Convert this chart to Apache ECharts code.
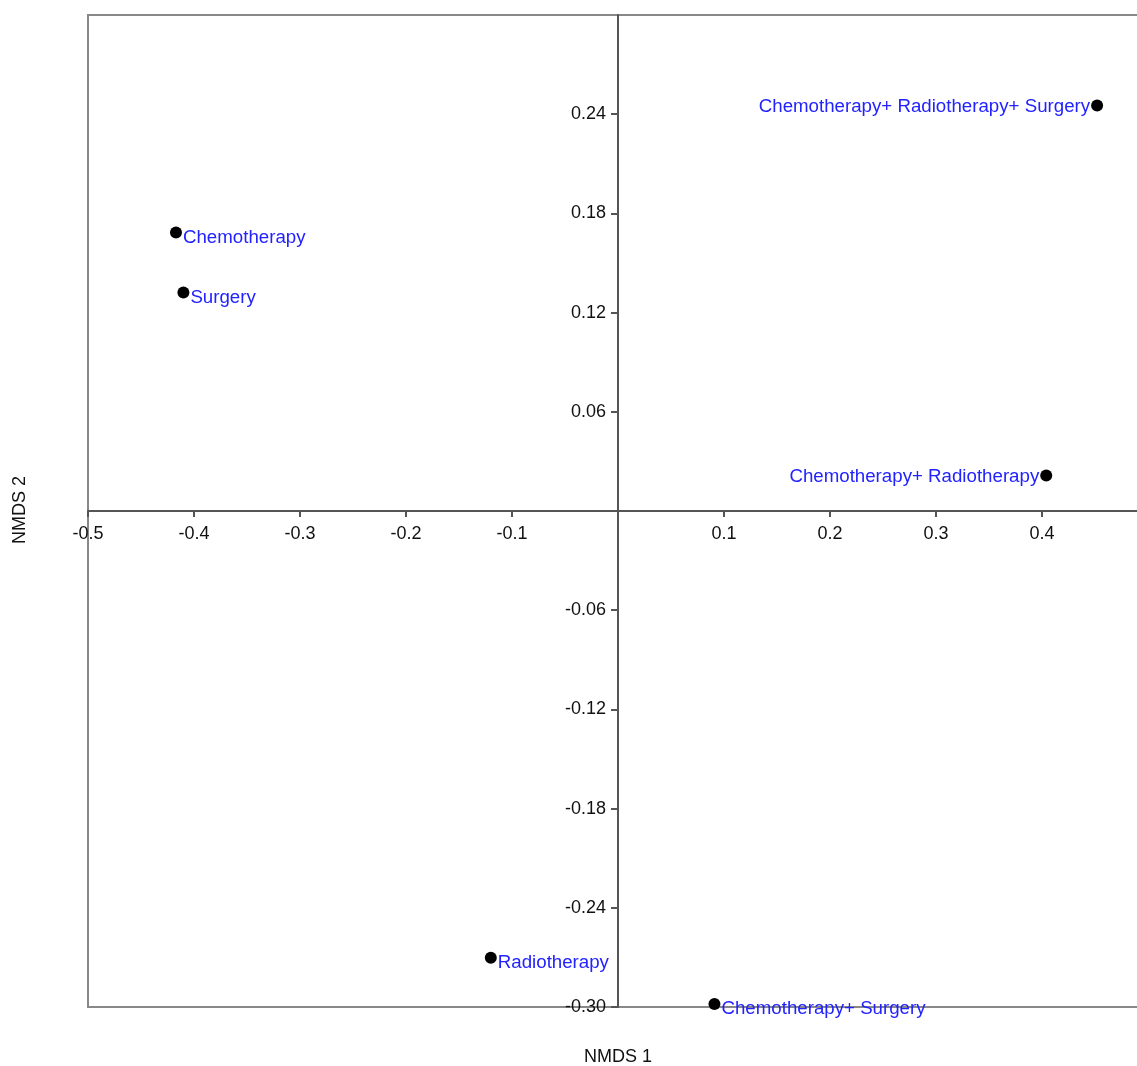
<!DOCTYPE html>
<html>
<head>
<meta charset="utf-8">
<script src="https://cdn.jsdelivr.net/npm/echarts@6/dist/echarts.min.js"></script>
<style>
  html, body { margin: 0; padding: 0; background: #fff; }
  #chart { width: 1137px; height: 1066px; }
</style>
</head>
<body>
<div id="chart"></div>
<script>
// NMDS ordination of treatment groups
const groups = [
  'Chemotherapy',
  'Surgery',
  'Chemotherapy+ Radiotherapy+ Surgery',
  'Chemotherapy+ Radiotherapy',
  'Radiotherapy',
  'Chemotherapy+ Surgery'
];
const nmds1 = [-0.417, -0.410, 0.452, 0.404, -0.120, 0.091];
const nmds2 = [0.1684, 0.1321, 0.2453, 0.0215, -0.2702, -0.2982];
// labels placed left of the point for the two groups near the right edge
const labelSide = ['right', 'right', 'left', 'left', 'right', 'right'];

// tick positions on each axis (0 sits at the crossing and is left bare)
const xTicks = [-0.5, -0.4, -0.3, -0.2, -0.1, 0.1, 0.2, 0.3, 0.4];
const yTicks = [-0.30, -0.24, -0.18, -0.12, -0.06, 0.06, 0.12, 0.18, 0.24];

const FONT = '"Liberation Sans", Arial, sans-serif';

// plot frame (pixels)
const G = { left: 88, top: 15, width: 1060, height: 992 };

const points = groups.map((g, i) => ({
  name: g,
  value: [nmds1[i], nmds2[i]],
  label: {
    position: labelSide[i],
    offset: labelSide[i] === 'right' ? [0, 5] : [0, 1]
  }
}));

const chart = echarts.init(document.getElementById('chart'), null, { renderer: 'canvas' });

const axisStroke = { color: '#555555', width: 2 };

chart.setOption({
  animation: false,
  backgroundColor: '#ffffff',
  grid: {
    left: G.left, top: G.top, width: G.width, height: G.height,
    outerBoundsMode: 'none',
    containLabel: false,
    show: true, borderColor: '#888888', borderWidth: 2, backgroundColor: 'transparent'
  },
  xAxis: {
    type: 'value',
    min: -0.5, max: 0.5, interval: 0.1,
    position: 'bottom',
    // the x axis crosses at NMDS 2 = 0 (middle of the frame)
    offset: -G.height / 2,
    axisLine: { show: true, onZero: false, lineStyle: axisStroke },
    axisTick: { show: true, length: 6, lineStyle: axisStroke, customValues: xTicks },
    splitLine: { show: false },
    axisLabel: {
      color: '#111', fontSize: 18, fontFamily: FONT, margin: 14,
      customValues: xTicks,
      formatter: v => String(Math.round(v * 10) / 10)
    }
  },
  yAxis: {
    type: 'value',
    min: -0.3, max: 0.3, interval: 0.06,
    position: 'left',
    // the y axis crosses at NMDS 1 = 0 (middle of the frame)
    offset: -G.width / 2,
    axisLine: { show: true, onZero: false, lineStyle: axisStroke },
    axisTick: { show: true, length: 7, lineStyle: axisStroke, customValues: yTicks },
    splitLine: { show: false },
    axisLabel: {
      color: '#111', fontSize: 18, fontFamily: FONT, margin: 12,
      customValues: yTicks,
      formatter: v => v.toFixed(2)
    }
  },
  graphic: [
    {
      type: 'text', x: 618, y: 1057,
      style: { text: 'NMDS 1', fontSize: 18, fontFamily: FONT, fill: '#111',
               align: 'center', verticalAlign: 'middle' }
    },
    {
      type: 'text', x: 20, y: 510, rotation: Math.PI / 2,
      style: { text: 'NMDS 2', fontSize: 18, fontFamily: FONT, fill: '#111',
               align: 'center', verticalAlign: 'middle' }
    }
  ],
  series: [{
    type: 'scatter',
    symbol: 'circle',
    symbolSize: 12,
    itemStyle: { color: '#000000', opacity: 1 },
    label: {
      show: true,
      formatter: p => p.name,
      color: '#2222ff',
      fontSize: 18.7,
      fontFamily: FONT,
      distance: 1
    },
    data: points
  }]
});
</script>
</body>
</html>
